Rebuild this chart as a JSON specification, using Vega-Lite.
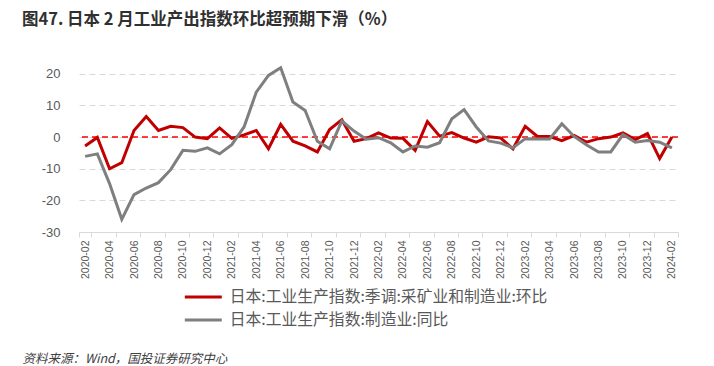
{
  "$schema": "https://vega.github.io/schema/vega-lite/v6.json",
  "width": 599,
  "height": 174,
  "autosize": {"type": "none"},
  "padding": {"left": 79, "top": 58, "right": 36, "bottom": 134},
  "background": "white",
  "config": {"view": {"stroke": null}, "font": "Noto Sans CJK SC"},
  "title": {
    "text": "图47. 日本 2 月工业产出指数环比超预期下滑（%）",
    "anchor": "start",
    "frame": "group",
    "dx": -57,
    "offset": 30,
    "fontSize": 16.5,
    "fontWeight": "bold",
    "color": "#303030",
    "font": "Noto Sans CJK SC"
  },
  "data": {
    "values": [
      {"m": "2020-02", "mom": -2.8, "yoy": -6.1},
      {"m": "2020-03", "mom": -0.1, "yoy": -5.3},
      {"m": "2020-04", "mom": -10.0, "yoy": -14.7},
      {"m": "2020-05", "mom": -8.1, "yoy": -26.0},
      {"m": "2020-06", "mom": 2.1, "yoy": -18.2},
      {"m": "2020-07", "mom": 6.5, "yoy": -16.1},
      {"m": "2020-08", "mom": 2.1, "yoy": -14.4},
      {"m": "2020-09", "mom": 3.4, "yoy": -10.3},
      {"m": "2020-10", "mom": 3.0, "yoy": -4.2},
      {"m": "2020-11", "mom": 0.0, "yoy": -4.5},
      {"m": "2020-12", "mom": -0.5, "yoy": -3.4},
      {"m": "2021-01", "mom": 2.9, "yoy": -5.3},
      {"m": "2021-02", "mom": -0.4, "yoy": -2.4},
      {"m": "2021-03", "mom": 0.7, "yoy": 3.2},
      {"m": "2021-04", "mom": 2.1, "yoy": 14.2},
      {"m": "2021-05", "mom": -3.7, "yoy": 19.5},
      {"m": "2021-06", "mom": 4.0, "yoy": 21.9},
      {"m": "2021-07", "mom": -1.3, "yoy": 11.1},
      {"m": "2021-08", "mom": -2.8, "yoy": 8.4},
      {"m": "2021-09", "mom": -4.7, "yoy": -1.3},
      {"m": "2021-10", "mom": 2.4, "yoy": -3.7},
      {"m": "2021-11", "mom": 5.5, "yoy": 5.1},
      {"m": "2021-12", "mom": -1.3, "yoy": 1.9},
      {"m": "2022-01", "mom": -0.5, "yoy": -0.7},
      {"m": "2022-02", "mom": 1.3, "yoy": -0.2},
      {"m": "2022-03", "mom": -0.3, "yoy": -1.8},
      {"m": "2022-04", "mom": -0.4, "yoy": -4.7},
      {"m": "2022-05", "mom": -4.2, "yoy": -2.8},
      {"m": "2022-06", "mom": 4.9, "yoy": -3.2},
      {"m": "2022-07", "mom": 0.3, "yoy": -1.8},
      {"m": "2022-08", "mom": 1.4, "yoy": 5.8},
      {"m": "2022-09", "mom": -0.3, "yoy": 8.7},
      {"m": "2022-10", "mom": -1.6, "yoy": 3.2},
      {"m": "2022-11", "mom": 0.1, "yoy": -1.2},
      {"m": "2022-12", "mom": -0.3, "yoy": -1.9},
      {"m": "2023-01", "mom": -3.7, "yoy": -3.4},
      {"m": "2023-02", "mom": 3.4, "yoy": -0.5},
      {"m": "2023-03", "mom": 0.2, "yoy": -0.6},
      {"m": "2023-04", "mom": 0.2, "yoy": -0.6},
      {"m": "2023-05", "mom": -1.1, "yoy": 4.2},
      {"m": "2023-06", "mom": 0.5, "yoy": 0.2},
      {"m": "2023-07", "mom": -1.6, "yoy": -2.4},
      {"m": "2023-08", "mom": -0.5, "yoy": -4.7},
      {"m": "2023-09", "mom": 0.0, "yoy": -4.7},
      {"m": "2023-10", "mom": 1.3, "yoy": 0.8},
      {"m": "2023-11", "mom": -0.8, "yoy": -1.6},
      {"m": "2023-12", "mom": 1.1, "yoy": -1.1},
      {"m": "2024-01", "mom": -6.8, "yoy": -1.6},
      {"m": "2024-02", "mom": 0.0, "yoy": -3.4}
    ]
  },
  "layer": [
    {
      "data": {"values": [{}]},
      "mark": {"type": "rule", "color": "#ff0000", "strokeDash": [6, 4], "strokeWidth": 1.5},
      "encoding": {
        "y": {
          "datum": 0,
          "type": "quantitative",
          "scale": {"domain": [-30, 25], "nice": false, "zero": false},
          "axis": {
            "values": [-30, -20, -10, 0, 10, 20],
            "tickCount": 20,
            "labelExpr": "'' + datum.value",
            "labelOverlap": false,
            "grid": true,
            "gridDash": [6, 4],
            "gridColor": "#d9d9d9",
            "domain": false,
            "ticks": false,
            "tickSize": 0,
            "labelPadding": 19,
            "labelFont": "Liberation Sans",
            "labelFontSize": 13,
            "labelColor": "#595959",
            "title": null
          }
        }
      }
    },
    {
      "transform": [
        {"fold": ["mom", "yoy"], "as": ["series", "value"]},
        {"filter": "datum.series === 'mom'"}
      ],
      "mark": {"type": "line", "strokeWidth": 3},
      "encoding": {
        "x": {
          "field": "m",
          "type": "ordinal",
          "bandPosition": 0.5,
          "scale": {"type": "band", "paddingInner": 0, "paddingOuter": 0},
          "axis": {
            "values": ["2020-02","2020-04","2020-06","2020-08","2020-10","2020-12","2021-02","2021-04","2021-06","2021-08","2021-10","2021-12","2022-02","2022-04","2022-06","2022-08","2022-10","2022-12","2023-02","2023-04","2023-06","2023-08","2023-10","2023-12","2024-02"],
            "labelAngle": -90,
            "labelFont": "Liberation Sans",
            "labelFontSize": 10.5,
            "labelColor": "#595959",
            "tickBand": "extent",
            "tickSize": 5,
            "tickColor": "#d9d9d9",
            "domainColor": "#d9d9d9",
            "domainWidth": 1,
            "labelPadding": 3,
            "grid": false,
            "title": "资料来源：Wind，国投证券研究中心",
            "titleAnchor": "start",
            "titleAlign": "left",
            "titleBaseline": "top",
            "titleX": -57,
            "titleY": 120,
            "titleFont": "Noto Sans CJK SC",
            "titleFontStyle": "italic",
            "titleFontWeight": "normal",
            "titleFontSize": 12.5,
            "titleColor": "#404040"
          }
        },
        "y": {
          "field": "value",
          "type": "quantitative",
          "scale": {"domain": [-30, 25], "nice": false, "zero": false},
          "axis": {
            "values": [-30, -20, -10, 0, 10, 20],
            "tickCount": 20,
            "labelExpr": "'' + datum.value",
            "labelOverlap": false,
            "grid": true,
            "gridDash": [6, 4],
            "gridColor": "#d9d9d9",
            "domain": false,
            "ticks": false,
            "tickSize": 0,
            "labelPadding": 19,
            "labelFont": "Liberation Sans",
            "labelFontSize": 13,
            "labelColor": "#595959",
            "title": null
          }
        },
        "color": {
          "field": "series",
          "type": "nominal",
          "scale": {"domain": ["mom", "yoy"], "range": ["#C00000", "#7F7F7F"]},
          "legend": {
            "orient": "none",
            "legendX": 116.3,
            "legendY": 231,
            "direction": "vertical",
            "title": null,
            "padding": 0,
            "symbolType": "M-3,0L3,0",
            "symbolSize": 152,
            "symbolStrokeWidth": 3,
            "labelFont": "Noto Sans CJK SC",
            "labelFontSize": 15.8,
            "labelColor": "#595959",
            "labelOffset": 18.4,
            "rowPadding": 7,
            "labelLimit": 0,
            "labelExpr": "datum.value === 'mom' ? '日本:工业生产指数:季调:采矿业和制造业:环比' : '日本:工业生产指数:制造业:同比'"
          }
        }
      }
    },
    {
      "transform": [
        {"fold": ["mom", "yoy"], "as": ["series", "value"]},
        {"filter": "datum.series === 'yoy'"}
      ],
      "mark": {"type": "line", "strokeWidth": 3},
      "encoding": {
        "x": {"field": "m", "type": "ordinal", "bandPosition": 0.5},
        "y": {"field": "value", "type": "quantitative"},
        "color": {"field": "series", "type": "nominal"}
      }
    }
  ]
}
